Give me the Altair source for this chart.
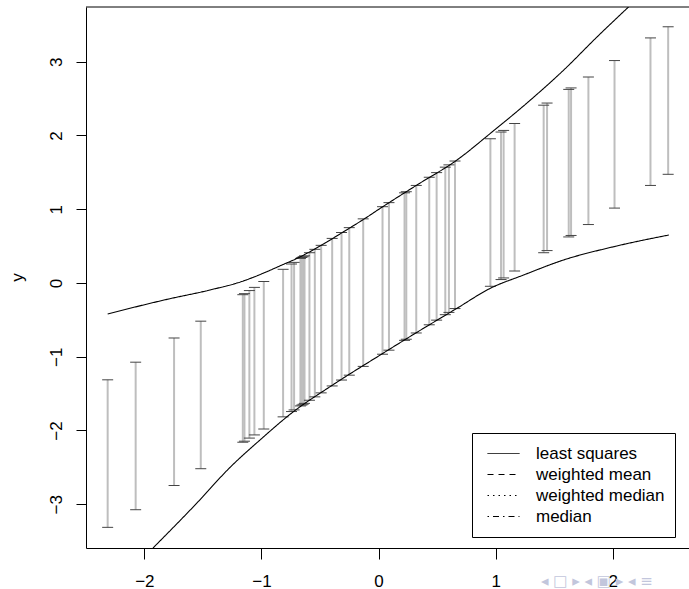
import altair as alt
import pandas as pd

# ---- data ----
bar_x = [-2.313, -2.074, -1.746, -1.518, -1.159, -1.145, -1.103, -1.060, -0.980,
         -0.815, -0.743, -0.721, -0.667, -0.655, -0.644, -0.632, -0.590, -0.544,
         -0.490, -0.396, -0.316, -0.250, -0.131, 0.034, 0.089, 0.222, 0.237,
         0.322, 0.433, 0.496, 0.570, 0.601, 0.653, 0.955, 1.046, 1.068, 1.162,
         1.410, 1.439, 1.624, 1.644, 1.792, 2.015, 2.322, 2.473]
bar_lower = [-3.313, -3.074, -2.746, -2.518, -2.159, -2.145, -2.103, -2.060, -1.980,
             -1.815, -1.743, -1.721, -1.667, -1.655, -1.644, -1.632, -1.590, -1.544,
             -1.490, -1.396, -1.316, -1.250, -1.131, -0.966, -0.911, -0.778, -0.763,
             -0.678, -0.567, -0.504, -0.430, -0.399, -0.347, -0.045, 0.046, 0.068, 0.162,
             0.410, 0.439, 0.624, 0.644, 0.792, 1.015, 1.322, 1.473]
bar_upper = [-1.313, -1.074, -0.746, -0.518, -0.159, -0.145, -0.103, -0.060, 0.020,
             0.185, 0.257, 0.279, 0.333, 0.345, 0.356, 0.368, 0.410, 0.456,
             0.510, 0.604, 0.684, 0.750, 0.869, 1.034, 1.089, 1.222, 1.237,
             1.322, 1.433, 1.496, 1.570, 1.601, 1.653, 1.955, 2.046, 2.068, 2.162,
             2.410, 2.439, 2.624, 2.644, 2.792, 3.015, 3.322, 3.473]

upper_x = [-2.313, -1.80, -1.438, -1.154, -0.98, -0.815, -0.70, -0.498, -0.27,
           -0.128, 0.015, 0.33, 0.670, 0.955, 1.297, 1.581, 1.867, 2.137]
upper_y = [-0.42, -0.22, -0.095, 0.027, 0.135, 0.25, 0.33, 0.503, 0.722,
           0.862, 1.012, 1.33, 1.667, 2.028, 2.480, 2.886, 3.337, 3.745]

lower_x = [-1.926, -1.552, -1.268, -1.011, -0.726, -0.413, 0.015, 0.385, 0.670,
           0.955, 1.239, 1.581, 2.009, 2.479]
lower_y = [-3.593, -2.985, -2.50, -2.127, -1.744, -1.405, -0.976, -0.614, -0.343,
           -0.072, 0.108, 0.312, 0.492, 0.650]

methods = ["least squares", "weighted mean", "weighted median", "median"]
dashes = [[1, 0], [6, 5], [1.5, 4], [1.5, 4, 6, 4]]

x_ticks = [-2, -1, 0, 1, 2]
y_ticks = [-3, -2, -1, 0, 1, 2, 3]

nav_text = ["◂ □ ▸  ◂ ▣ ▸  ◂ ≡"]

X_DOMAIN = [-2.498, 2.651]
Y_DOMAIN = [-3.593, 3.741]
W, H = 603, 541
FONT = "Liberation Sans"

bars = pd.DataFrame({"x": bar_x, "lo": bar_lower, "hi": bar_upper})
curves = pd.concat([
    pd.DataFrame({"x": upper_x, "y": upper_y, "curve": "upper", "method": methods[0]}),
    pd.DataFrame({"x": lower_x, "y": lower_y, "curve": "lower", "method": methods[0]}),
])

xs = alt.Scale(domain=X_DOMAIN, nice=False, zero=False)
ys = alt.Scale(domain=Y_DOMAIN, nice=False, zero=False)

x_axis = alt.Axis(values=x_ticks, format="d", title=None, grid=False,
                  domain=True, domainColor="black", domainWidth=1,
                  tickColor="black", tickSize=11, tickWidth=1,
                  labelPadding=27, labelBaseline="alphabetic", labelAlign="center",
                  labelFont=FONT, labelFontSize=17, labelColor="black")
y_axis = alt.Axis(values=y_ticks, format="d", title="y", grid=False,
                  domain=True, domainColor="black", domainWidth=1,
                  tickColor="black", tickSize=10, tickWidth=1,
                  labelAngle=270, labelAlign="center", labelBaseline="alphabetic",
                  labelPadding=15, labelFont=FONT, labelFontSize=17, labelColor="black",
                  titleAngle=270, titleAlign="center", titleBaseline="alphabetic",
                  titleX=-64, titleY=270, titleFont=FONT, titleFontSize=17,
                  titleFontWeight="normal", titleColor="black")

X = lambda f: alt.X(f, type="quantitative", scale=xs, axis=x_axis)
Y = lambda f: alt.Y(f, type="quantitative", scale=ys, axis=y_axis)

bar_layer = alt.Chart(bars).mark_rule(color="#bebebe", strokeWidth=2).encode(
    x=X("x"), y=Y("lo"), y2="hi")
cap_lo = alt.Chart(bars).mark_tick(orient="horizontal", size=11, thickness=1,
                                   color="#444444", opacity=1).encode(x=X("x"), y=Y("lo"))
cap_hi = alt.Chart(bars).mark_tick(orient="horizontal", size=11, thickness=1,
                                   color="#444444", opacity=1).encode(x=X("x"), y=Y("hi"))

curve_layer = alt.Chart(curves).mark_line(color="black", strokeWidth=1.1, clip=True,
                                          interpolate="monotone").encode(
    x=X("x"), y=Y("y"), detail="curve:N",
    strokeDash=alt.StrokeDash(
        "method:N",
        scale=alt.Scale(domain=methods, range=dashes),
        legend=alt.Legend(title=None, orient="none", legendX=386, legendY=426,
                          strokeColor="black", fillColor="white", padding=10,
                          cornerRadius=0, symbolType="stroke", symbolSize=1024,
                          symbolStrokeWidth=1, symbolStrokeColor="black",
                          symbolOffset=5, labelOffset=16, clipHeight=21, rowPadding=0,
                          labelFont=FONT, labelFontSize=17, labelColor="black",
                          labelLimit=0)))

top_border = alt.Chart(pd.DataFrame({"a": [0]})).mark_rule(color="black", strokeWidth=1).encode(
    x=alt.value(0), x2=alt.value(W), y=alt.value(0))

nav = alt.Chart(pd.DataFrame({"t": nav_text})).mark_text(
    font="DejaVu Sans", fontSize=15, color="#c2c6dc", align="left", baseline="alphabetic"
).encode(text="t:N", x=alt.value(455), y=alt.value(579))

chart = alt.layer(bar_layer, cap_lo, cap_hi, curve_layer, top_border, nav).properties(
    width=W, height=H,
    autosize=alt.AutoSizeParams(type="none"),
    padding={"left": 86, "top": 7, "right": 0, "bottom": 41},
).configure(font=FONT).configure_view(stroke="transparent")

chart.save("out.html", embed_options={"renderer": "svg", "actions": False})
